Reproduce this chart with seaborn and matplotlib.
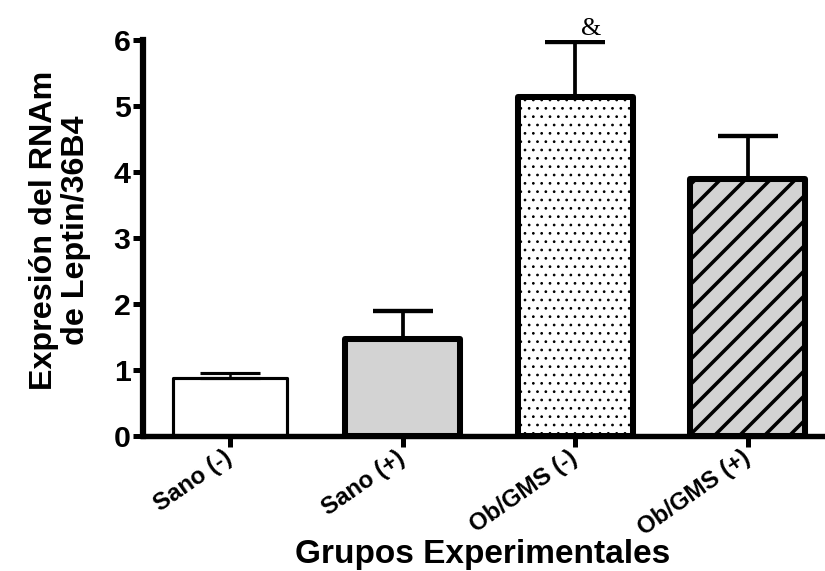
import matplotlib
matplotlib.use('Agg')
import matplotlib.pyplot as plt
import seaborn as sns
import pandas as pd

# values
groups = ["Sano (-)", "Sano (+)", "Ob/GMS (-)", "Ob/GMS (+)"]
means = [0.88, 1.47, 5.14, 3.89]
errors = [0.08, 0.43, 0.83, 0.65]
fills = ["white", "#d3d3d3", "white", "#d3d3d3"]
hatches = [None, None, "...", "//"]
edge_widths = [1.5, 2.9, 2.9, 2.9]
err_widths = [1.2, 1.8, 1.8, 1.8]
y_ticks = [0, 1, 2, 3, 4, 5, 6]

sns.set_theme(style="white")
plt.rcParams.update({
    'font.family': ['Liberation Sans', 'DejaVu Sans'],
    'font.weight': 'bold',
    'text.color': 'black',
    'axes.labelcolor': 'black',
    'xtick.color': 'black',
    'ytick.color': 'black',
})

df = pd.DataFrame({"grupo": groups, "valor": means})

fig = plt.figure(figsize=(5.5, 571 / 150), dpi=150)
ax = fig.add_axes([143 / 825, 1 - 436 / 571, (822 - 143) / 825, (436 - 40) / 571])

sns.barplot(data=df, x="grupo", y="valor", hue="grupo", palette=fills,
            width=0.666, legend=False, ax=ax, errorbar=None)

for i, patch in enumerate(ax.patches):
    patch.set_edgecolor("black")
    patch.set_linewidth(edge_widths[i])
    patch.set_joinstyle("round")
    if hatches[i]:
        patch.set_hatch(hatches[i])
        if hasattr(patch, "set_hatch_linewidth"):
            patch.set_hatch_linewidth(0.5 if hatches[i] == "..." else 1.7)

for i in range(len(groups)):
    ax.errorbar(i, means[i], yerr=[[0], [errors[i]]], fmt="none", ecolor="black",
                elinewidth=err_widths[i], capsize=14.5, capthick=err_widths[i] + 0.3,
                zorder=1)

ax.text(2.09, 6.17, "&", family=["Liberation Serif", "DejaVu Serif"],
        fontweight="normal", fontsize=12.5, ha="center", va="center", clip_on=False)

ax.set_ylim(0, 6)
ax.set_xlim(-0.504, 3.43)
ax.set_yticks(y_ticks)
ax.set_yticklabels([str(t) for t in y_ticks], fontsize=14.5, fontweight="bold")
ax.set_xticks(range(len(groups)))
ax.set_xticklabels(groups, rotation=35, ha="right", va="center", rotation_mode="anchor",
                   fontsize=11.5, fontweight="bold")

ax.tick_params(axis="y", length=5, width=2.4, direction="out", pad=1, left=True)
ax.tick_params(axis="x", length=5.5, width=2.4, direction="out", pad=4, bottom=True)

sns.despine(ax=ax)
ax.spines["left"].set_linewidth(3)
ax.spines["bottom"].set_linewidth(2.6)
ax.spines["left"].set_color("black")
ax.spines["bottom"].set_color("black")

ax.set_ylabel("Expresión del RNAm\nde Leptin/36B4", fontsize=15.5, fontweight="bold",
              linespacing=1.1, va="center")
ax.yaxis.set_label_coords(-0.122, 0.52)
ax.set_xlabel("Grupos Experimentales", fontsize=16, fontweight="bold", va="center")
ax.xaxis.set_label_coords(0.5, -0.30)

fig.savefig("out.png", dpi=150)
